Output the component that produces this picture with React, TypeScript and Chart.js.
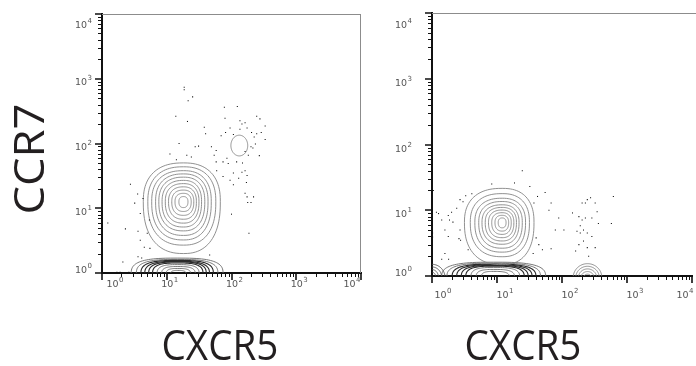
import React, { useEffect, useRef } from "react";
import { Chart, registerables } from "chart.js";

Chart.register(...registerables);

// ---------- shared axis data ----------
const majorTicks = [1, 10, 100, 1000, 10000];
const tickBase = "10";
const tickExponents = ["0", "1", "2", "3", "4"];
const minorTicks = [
  2, 3, 4, 5, 6, 7, 8, 9,
  20, 30, 40, 50, 60, 70, 80, 90,
  200, 300, 400, 500, 600, 700, 800, 900,
  2000, 3000, 4000, 5000, 6000, 7000, 8000, 9000,
];
const xTitle = "CXCR5";
const yTitle = "CCR7";

// ---------- left panel data ----------
// contour rings: [decades left, decades right, decades up, decades down] around a center value
const leftMainCenter: [number, number] = [18.1, 12.6];
const leftMainRings = [
  [0.07, 0.07, 0.08, 0.09],
  [0.13, 0.12, 0.13, 0.15],
  [0.18, 0.16, 0.18, 0.21],
  [0.23, 0.2, 0.23, 0.27],
  [0.28, 0.24, 0.28, 0.33],
  [0.33, 0.28, 0.33, 0.39],
  [0.38, 0.33, 0.38, 0.45],
  [0.43, 0.38, 0.43, 0.52],
  [0.49, 0.43, 0.48, 0.59],
  [0.55, 0.5, 0.54, 0.67],
  [0.62, 0.57, 0.6, 0.8],
];
const leftLowCenter: [number, number] = [14.8, 0.955];
const leftLowRings = [
  [0.72, 0.7, 0.25, 0.25],
  [0.64, 0.62, 0.23, 0.23],
  [0.57, 0.55, 0.215, 0.22],
  [0.51, 0.49, 0.2, 0.2],
  [0.45, 0.44, 0.19, 0.19],
  [0.39, 0.39, 0.175, 0.18],
  [0.32, 0.33, 0.15, 0.15],
  [0.25, 0.27, 0.12, 0.12],
  [0.18, 0.2, 0.09, 0.09],
  [0.11, 0.13, 0.06, 0.06],
];
const leftHighCenter: [number, number] = [132, 93];
const leftHighRings = [[0.13, 0.13, 0.16, 0.16]];
const leftDots: [number, number][] = [
  [18.6, 741], [18.6, 676], [21.4, 457], [25.1, 525], [13.8, 263], [20.9, 219],
  [77.6, 363], [123, 372], [79.4, 245], [135, 224], [162, 209], [245, 263],
  [275, 240], [331, 186], [288, 148], [331, 115], [38, 178], [39.8, 141],
  [15.5, 100], [69.2, 132], [81, 148], [95, 174], [107, 138], [145, 200],
  [135, 166], [174, 174], [204, 148], [224, 126], [245, 141], [200, 89],
  [234, 98], [214, 85], [49, 89], [58, 78], [54, 66], [27.5, 89], [31, 91],
  [11.2, 69], [20.4, 66], [24, 62], [14.1, 56], [58, 52], [74, 52], [85, 59],
  [89, 49], [120, 52], [148, 50], [59, 38], [107, 35], [129, 29], [145, 36],
  [162, 38], [174, 32], [170, 25], [74, 31], [95, 27], [107, 23], [162, 17],
  [174, 15], [178, 12.3], [200, 12.3], [219, 15], [100, 8.1], [186, 4.1],
  [2.75, 23.4], [3.55, 16.6], [3.9, 8.3], [3.2, 12], [4.3, 14.1], [1.23, 5.9],
  [2.3, 4.8], [3.6, 4.4], [3.9, 3.2], [4.5, 2.5], [5.5, 2.4], [3.6, 1.78],
  [4.1, 1.7], [2.1, 1.48], [5.4, 6.6], [5.0, 4.1], [46, 1.9], [162, 75],
  [182, 66], [269, 65], [1.7, 1.03], [1.9, 1.03], [2.6, 1.03],
];

// ---------- right panel data ----------
const rightMainCenter: [number, number] = [12.0, 6.5];
const rightMainRings = [
  [0.06, 0.06, 0.07, 0.08],
  [0.11, 0.1, 0.11, 0.13],
  [0.16, 0.14, 0.15, 0.18],
  [0.21, 0.18, 0.19, 0.23],
  [0.26, 0.22, 0.23, 0.28],
  [0.31, 0.26, 0.27, 0.33],
  [0.36, 0.31, 0.32, 0.39],
  [0.42, 0.36, 0.37, 0.45],
  [0.49, 0.42, 0.44, 0.52],
  [0.58, 0.49, 0.52, 0.64],
];
const rightLowCenter: [number, number] = [8.9, 0.955];
const rightLowRings = [
  [0.8, 0.8, 0.23, 0.23],
  [0.72, 0.72, 0.215, 0.22],
  [0.64, 0.65, 0.2, 0.2],
  [0.57, 0.59, 0.19, 0.19],
  [0.5, 0.53, 0.18, 0.18],
  [0.43, 0.47, 0.17, 0.17],
  [0.35, 0.4, 0.15, 0.15],
  [0.27, 0.32, 0.12, 0.12],
  [0.19, 0.24, 0.09, 0.09],
];
const rightCornerCenter: [number, number] = [1.0, 0.95];
const rightCornerRings = [
  [0.2, 0.2, 0.2, 0.2],
  [0.15, 0.15, 0.16, 0.16],
  [0.1, 0.1, 0.12, 0.12],
  [0.06, 0.06, 0.08, 0.08],
];
const rightSideCenter: [number, number] = [247, 0.95];
const rightSideRings = [
  [0.22, 0.22, 0.21, 0.21],
  [0.18, 0.18, 0.17, 0.17],
  [0.14, 0.14, 0.13, 0.13],
  [0.1, 0.1, 0.09, 0.09],
  [0.06, 0.06, 0.05, 0.05],
];
const rightDots: [number, number][] = [
  [24.5, 40], [18.6, 26], [8.3, 25], [32, 23], [55, 18.6], [1.05, 20],
  [3.3, 16.6], [4.1, 17.8], [2.7, 14.5], [3.0, 13.5], [2.4, 10.7], [2.0, 9.3],
  [1.78, 8.3], [1.86, 7.1], [2.1, 6.6], [1.41, 7.1], [1.58, 5.0], [1.78, 4.0],
  [2.7, 5.0], [2.6, 3.7], [2.75, 3.5], [1.17, 9.3], [1.26, 8.9], [1.02, 4.5],
  [1.02, 3.9], [1.58, 2.2], [1.8, 1.8], [1.41, 1.8], [3.6, 2.5], [40, 3.8],
  [44, 3.0], [50, 2.5], [36, 2.2], [42, 16.2], [37, 12.9], [68, 12.9],
  [63, 10], [89, 7.6], [107, 5.0], [79, 5.0], [68, 2.6], [145, 9.1],
  [182, 8.0], [204, 12.9], [229, 12.9], [245, 14.5], [275, 15.5], [204, 7.1],
  [229, 7.6], [288, 7.6], [324, 12.9], [347, 9.5], [363, 6.3], [170, 4.8],
  [191, 4.5], [245, 4.5], [288, 4.0], [214, 3.4], [182, 3.0], [245, 2.7],
  [324, 2.7], [162, 2.4], [257, 2.0], [191, 5.8], [214, 5.0], [617, 16.2],
  [575, 6.3],
];

// ---------- styling ----------
type RingSet = {
  center: [number, number];
  rings: number[][];
  color: string;
  squareness: number;
  dark?: [number, number];
};

type PanelStyle = {
  width: number;
  padTop: number;
  padRight: number;
  yAxisWidth: number;
  xAxisHeight: number;
  xLabelDy: number;
  xLabelShift: number;
  xClampL: number;
  xClampR: number;
  yLabelGap: number;
  yLabelDy: number;
  yClampTop: number;
  rightBorder: boolean;
};

const ringGray = "#858585";
const ringDark = "#2a2a2a";

function drawRingSet(chart: any, set: RingSet) {
  const { ctx, scales } = chart;
  const xs = scales.x;
  const ys = scales.y;
  const [vx, vy] = set.center;
  const cx = xs.getPixelForValue(vx);
  const cy = ys.getPixelForValue(vy);
  const p = 2 / set.squareness;
  const steps = 96;
  set.rings.forEach((r, i) => {
    const left = cx - xs.getPixelForValue(vx / Math.pow(10, r[0]));
    const right = xs.getPixelForValue(vx * Math.pow(10, r[1])) - cx;
    const up = cy - ys.getPixelForValue(vy * Math.pow(10, r[2]));
    const down = ys.getPixelForValue(vy / Math.pow(10, r[3])) - cy;
    const isDark = set.dark && i >= set.dark[0] && i <= set.dark[1];
    ctx.beginPath();
    for (let k = 0; k <= steps; k++) {
      const t = (k / steps) * Math.PI * 2;
      const c = Math.cos(t);
      const s = Math.sin(t);
      const px = cx + (c >= 0 ? right : left) * Math.sign(c) * Math.pow(Math.abs(c), p);
      const py = cy + (s >= 0 ? down : up) * Math.sign(s) * Math.pow(Math.abs(s), p);
      if (k === 0) ctx.moveTo(px, py);
      else ctx.lineTo(px, py);
    }
    ctx.closePath();
    ctx.strokeStyle = isDark ? ringDark : set.color;
    ctx.lineWidth = isDark ? 1.1 : 0.9;
    ctx.stroke();
  });
}

const labelFont = '9.5px "DejaVu Sans", sans-serif';
const expFont = '7px "DejaVu Sans", sans-serif';

function drawPowerLabel(ctx: CanvasRenderingContext2D, exp: string, xStart: number, baseline: number) {
  ctx.font = labelFont;
  const wb = ctx.measureText(tickBase).width;
  ctx.fillText(tickBase, xStart, baseline);
  ctx.font = expFont;
  ctx.fillText(exp, xStart + wb + 0.5, baseline - 5);
}

function labelWidth(ctx: CanvasRenderingContext2D, exp: string) {
  ctx.font = labelFont;
  const wb = ctx.measureText(tickBase).width;
  ctx.font = expFont;
  return wb + 0.5 + ctx.measureText(exp).width;
}

function makePanelPlugin(sets: RingSet[], st: PanelStyle) {
  return {
    id: "flowPanel",
    beforeDatasetsDraw(chart: any) {
      const { ctx, chartArea } = chart;
      ctx.save();
      ctx.beginPath();
      ctx.rect(chartArea.left, chartArea.top, chartArea.right - chartArea.left, chartArea.bottom - chartArea.top);
      ctx.clip();
      sets.forEach((s) => drawRingSet(chart, s));
      ctx.restore();
    },
    afterDraw(chart: any) {
      const { ctx, chartArea, scales } = chart;
      const xs = scales.x;
      const ys = scales.y;
      const { left, right, top, bottom } = chartArea;
      ctx.save();
      ctx.strokeStyle = "#8c8c8c";
      ctx.lineWidth = 1;
      ctx.beginPath();
      ctx.moveTo(left, top + 0.5);
      ctx.lineTo(st.rightBorder ? right : chart.width, top + 0.5);
      if (st.rightBorder) {
        ctx.moveTo(right - 0.5, top);
        ctx.lineTo(right - 0.5, bottom);
      }
      ctx.stroke();
      ctx.strokeStyle = "#111";
      ctx.lineWidth = 1;
      ctx.beginPath();
      minorTicks.forEach((v) => {
        const px = Math.round(xs.getPixelForValue(v)) + 0.5;
        ctx.moveTo(px, bottom);
        ctx.lineTo(px, bottom + 4);
        const py = Math.round(ys.getPixelForValue(v)) + 0.5;
        ctx.moveTo(left, py);
        ctx.lineTo(left - 4, py);
      });
      ctx.stroke();
      ctx.lineWidth = 1.6;
      ctx.beginPath();
      majorTicks.forEach((v) => {
        const px = Math.round(xs.getPixelForValue(v));
        ctx.moveTo(px, bottom);
        ctx.lineTo(px, bottom + 7);
        const py = Math.round(ys.getPixelForValue(v));
        ctx.moveTo(left, py);
        ctx.lineTo(left - 7, py);
      });
      ctx.stroke();
      ctx.fillStyle = "#555";
      ctx.textAlign = "left";
      ctx.textBaseline = "alphabetic";
      majorTicks.forEach((v, i) => {
        const exp = tickExponents[i];
        const w = labelWidth(ctx, exp);
        let cx = xs.getPixelForValue(v) + st.xLabelShift;
        cx = Math.max(left + st.xClampL, Math.min(right - st.xClampR, cx));
        drawPowerLabel(ctx, exp, cx - w / 2, bottom + st.xLabelDy);
        let by = ys.getPixelForValue(v) + st.yLabelDy;
        by = Math.max(top + st.yClampTop, Math.min(bottom, by));
        drawPowerLabel(ctx, exp, left - st.yLabelGap - w, by);
      });
      ctx.restore();
    },
  };
}

function Panel({ dots, sets, st, left }: { dots: [number, number][]; sets: RingSet[]; st: PanelStyle; left: number }) {
  const ref = useRef<HTMLCanvasElement | null>(null);
  useEffect(() => {
    if (!ref.current) return;
    const axisBase = {
      type: "logarithmic" as const,
      min: 1,
      max: 10000,
      grid: { display: false },
      ticks: { display: false },
      border: { display: true, color: "#111", width: 2 },
    };
    const chart = new Chart(ref.current, {
      type: "scatter",
      data: {
        datasets: [
          {
            data: dots.map(([x, y]) => ({ x, y })),
            pointRadius: 0.75,
            pointStyle: "rect",
            pointBackgroundColor: "#111",
            pointBorderWidth: 0,
          },
        ],
      },
      options: {
        animation: false,
        responsive: false,
        maintainAspectRatio: false,
        devicePixelRatio: 1,
        layout: { padding: { top: st.padTop, right: st.padRight, left: 0, bottom: 0 } },
        plugins: { legend: { display: false }, tooltip: { enabled: false } },
        scales: {
          x: {
            ...axisBase,
            afterFit: (s: any) => {
              s.height = st.xAxisHeight;
            },
          },
          y: {
            ...axisBase,
            afterFit: (s: any) => {
              s.width = st.yAxisWidth;
            },
          },
        },
      } as any,
      plugins: [makePanelPlugin(sets, st)],
    });
    return () => chart.destroy();
  }, []);
  return (
    <canvas
      ref={ref}
      width={st.width}
      height={366}
      style={{ position: "absolute", left, top: 0, width: st.width, height: 366 }}
    />
  );
}

const leftStyle: PanelStyle = {
  width: 370,
  padTop: 14,
  padRight: 9,
  yAxisWidth: 102,
  xAxisHeight: 93,
  xLabelDy: 14,
  xLabelShift: 3,
  xClampL: 13,
  xClampR: 9,
  yLabelGap: 10,
  yLabelDy: 6.5,
  yClampTop: 14,
  rightBorder: true,
};

const rightStyle: PanelStyle = {
  width: 326,
  padTop: 13,
  padRight: 2,
  yAxisWidth: 62,
  xAxisHeight: 90,
  xLabelDy: 22,
  xLabelShift: 8,
  xClampL: 11,
  xClampR: 7,
  yLabelGap: 20,
  yLabelDy: 7,
  yClampTop: 15,
  rightBorder: false,
};

const leftSets: RingSet[] = [
  { center: leftLowCenter, rings: leftLowRings, color: "#6a6a6a", squareness: 3, dark: [2, 5] },
  { center: leftMainCenter, rings: leftMainRings, color: ringGray, squareness: 2.4 },
  { center: leftHighCenter, rings: leftHighRings, color: ringGray, squareness: 2 },
];

const rightSets: RingSet[] = [
  { center: rightLowCenter, rings: rightLowRings, color: "#6a6a6a", squareness: 3, dark: [2, 5] },
  { center: rightCornerCenter, rings: rightCornerRings, color: "#555", squareness: 2 },
  { center: rightSideCenter, rings: rightSideRings, color: ringGray, squareness: 2 },
  { center: rightMainCenter, rings: rightMainRings, color: ringGray, squareness: 2.4 },
];

const titleStyle: React.CSSProperties = {
  position: "absolute",
  width: 200,
  height: 42,
  fontFamily: '"Open Sans", sans-serif',
  fontSize: 42,
  lineHeight: "42px",
  color: "#231f20",
  textAlign: "center",
  whiteSpace: "nowrap",
};

export default function App() {
  return (
    <div style={{ position: "absolute", left: 0, top: 0, width: 696, height: 366, background: "#fff", overflow: "hidden" }}>
      <Panel dots={leftDots} sets={leftSets} st={leftStyle} left={0} />
      <Panel dots={rightDots} sets={rightSets} st={rightStyle} left={370} />
      <div style={{ ...titleStyle, left: 28 - 100, top: 159 - 21, transform: "rotate(-90deg) scaleX(1.08)" }}>{yTitle}</div>
      <div style={{ ...titleStyle, left: 220 - 100, top: 323, transform: "scaleX(0.92)" }}>{xTitle}</div>
      <div style={{ ...titleStyle, left: 523 - 100, top: 323, transform: "scaleX(0.92)" }}>{xTitle}</div>
    </div>
  );
}
